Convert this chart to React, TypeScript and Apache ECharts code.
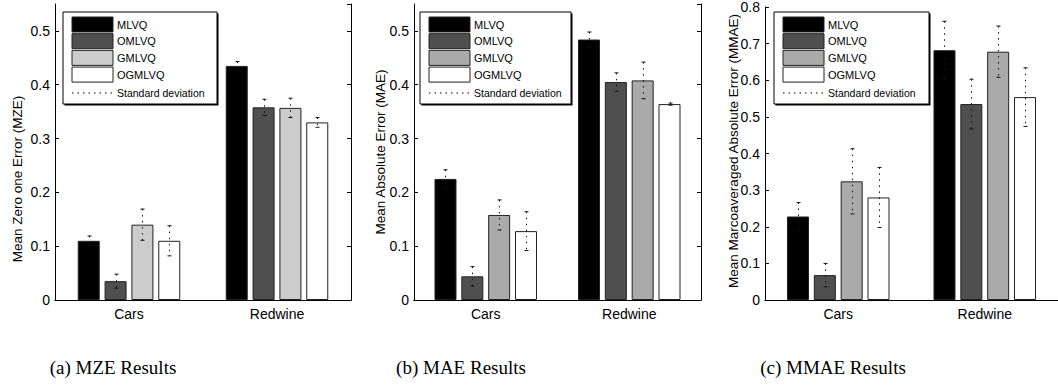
import React, { useEffect, useRef } from "react";
import * as echarts from "echarts";

const categories = ["Cars", "Redwine"];
const methods = ["MLVQ", "OMLVQ", "GMLVQ", "OGMLVQ"];

const mzeMLVQ = [0.11, 0.435];
const mzeOMLVQ = [0.035, 0.358];
const mzeGMLVQ = [0.14, 0.357];
const mzeOGMLVQ = [0.11, 0.33];
const mzeStdMLVQ = [0.009, 0.008];
const mzeStdOMLVQ = [0.013, 0.015];
const mzeStdGMLVQ = [0.029, 0.018];
const mzeStdOGMLVQ = [0.028, 0.009];

const maeMLVQ = [0.225, 0.484];
const maeOMLVQ = [0.044, 0.405];
const maeGMLVQ = [0.158, 0.408];
const maeOGMLVQ = [0.128, 0.364];
const maeStdMLVQ = [0.017, 0.014];
const maeStdOMLVQ = [0.018, 0.017];
const maeStdGMLVQ = [0.028, 0.034];
const maeStdOGMLVQ = [0.036, 0.002];

const mmaeMLVQ = [0.228, 0.682];
const mmaeOMLVQ = [0.068, 0.535];
const mmaeGMLVQ = [0.324, 0.678];
const mmaeOGMLVQ = [0.28, 0.554];
const mmaeStdMLVQ = [0.038, 0.079];
const mmaeStdOMLVQ = [0.032, 0.068];
const mmaeStdGMLVQ = [0.089, 0.07];
const mmaeStdOGMLVQ = [0.082, 0.08];

const yLabels = [
  "Mean Zero one Error (MZE)",
  "Mean Absolute Error (MAE)",
  "Mean Marcoaveraged Absolute Error (MMAE)",
];
const captions = ["(a) MZE Results", "(b) MAE Results", "(c) MMAE Results"];
const yMax = [0.55, 0.55, 0.8];
const legendDev = "Standard deviation";

const SANS = "'Liberation Sans', Arial, Helvetica, sans-serif";
const SERIF = "'Liberation Serif', 'Times New Roman', serif";
const BAR_W = 22;
const BAR_GAP = 0.22;

const panels = [
  {
    vals: [mzeMLVQ, mzeOMLVQ, mzeGMLVQ, mzeOGMLVQ],
    stds: [mzeStdMLVQ, mzeStdOMLVQ, mzeStdGMLVQ, mzeStdOGMLVQ],
    colors: ["#000000", "#4f4f4f", "#cccccc", "#ffffff"],
    grid: { left: 55, top: 4, width: 296, height: 296 },
    legendX: 63,
    legendW: 154,
    labelX: 17,
    labelY: 179,
    capX: 113,
    showRight: true,
  },
  {
    vals: [maeMLVQ, maeOMLVQ, maeGMLVQ, maeOGMLVQ],
    stds: [maeStdMLVQ, maeStdOMLVQ, maeStdGMLVQ, maeStdOGMLVQ],
    colors: ["#000000", "#4f4f4f", "#aaaaaa", "#ffffff"],
    grid: { left: 414, top: 4, width: 287, height: 296 },
    legendX: 420,
    legendW: 151,
    labelX: 380,
    labelY: 152,
    capX: 461,
    showRight: true,
  },
  {
    vals: [mmaeMLVQ, mmaeOMLVQ, mmaeGMLVQ, mmaeOGMLVQ],
    stds: [mmaeStdMLVQ, mmaeStdOMLVQ, mmaeStdGMLVQ, mmaeStdOGMLVQ],
    colors: ["#000000", "#4f4f4f", "#aaaaaa", "#ffffff"],
    grid: { left: 765, top: 4, width: 296, height: 296 },
    legendX: 774,
    legendW: 155,
    labelX: 733,
    labelY: 151,
    capX: 833,
    showRight: false,
  },
];

function buildOption() {
  const grid: any[] = [];
  const xAxis: any[] = [];
  const yAxis: any[] = [];
  const series: any[] = [];
  const graphic: any[] = [];

  panels.forEach((p, pi) => {
    grid.push({ ...p.grid, containLabel: false });
    const lineStyle = { color: "#000", width: 1 };
    xAxis.push({
      type: "category",
      gridIndex: pi,
      data: categories,
      position: "bottom",
      axisLine: { lineStyle },
      axisTick: { inside: true, alignWithLabel: true, length: 4, lineStyle },
      axisLabel: { color: "#000", fontFamily: SANS, fontSize: 14, margin: 7 },
    });
    xAxis.push({
      type: "category",
      gridIndex: pi,
      data: categories,
      position: "top",
      axisLine: { lineStyle },
      axisTick: { inside: true, alignWithLabel: true, length: 4, lineStyle },
      axisLabel: { show: false },
    });
    yAxis.push({
      type: "value",
      gridIndex: pi,
      min: 0,
      max: yMax[pi],
      interval: 0.1,
      position: "left",
      axisLine: { show: true, lineStyle },
      axisTick: { show: true, inside: true, length: 4, lineStyle },
      splitLine: { show: false },
      axisLabel: {
        color: "#000",
        fontFamily: SANS,
        fontSize: 14,
        margin: 5,
        showMaxLabel: pi === 2,
      },
    });
    yAxis.push({
      type: "value",
      gridIndex: pi,
      min: 0,
      max: yMax[pi],
      interval: 0.1,
      position: "right",
      show: p.showRight,
      axisLine: { show: true, lineStyle },
      axisTick: { show: true, inside: true, length: 4, lineStyle },
      splitLine: { show: false },
      axisLabel: { show: false },
    });

    methods.forEach((m, mi) => {
      series.push({
        type: "bar",
        name: m,
        xAxisIndex: pi * 2,
        yAxisIndex: pi * 2,
        barWidth: BAR_W,
        barGap: BAR_GAP * 100 + "%",
        data: p.vals[mi],
        itemStyle: { color: p.colors[mi], borderColor: "#222", borderWidth: 1 },
        z: 2,
      });
    });

    methods.forEach((m, mi) => {
      const data = categories.map((_, ci) => [ci, p.vals[mi][ci], p.stds[mi][ci]]);
      series.push({
        type: "custom",
        name: m + " std",
        xAxisIndex: pi * 2,
        yAxisIndex: pi * 2,
        z: 5,
        encode: { x: 0, y: 1 },
        data,
        renderItem: (params: any, api: any) => {
          const ci = api.value(0);
          const v = api.value(1);
          const e = api.value(2);
          const step = BAR_W * (1 + BAR_GAP);
          const total = BAR_W * 4 + BAR_W * BAR_GAP * 3;
          const offset = -total / 2 + BAR_W / 2 + mi * step;
          const top = api.coord([ci, v + e]);
          const bot = api.coord([ci, v - e]);
          const x = Math.round(top[0] + offset) + 0.5;
          const st = { stroke: "#111", lineWidth: 1 };
          return {
            type: "group",
            children: [
              {
                type: "line",
                shape: { x1: x, y1: top[1], x2: x, y2: bot[1] },
                style: { ...st, lineDash: [1.5, 4.5] },
              },
              {
                type: "line",
                shape: { x1: x - 2, y1: top[1], x2: x + 2, y2: top[1] },
                style: st,
              },
              {
                type: "line",
                shape: { x1: x - 2, y1: bot[1], x2: x + 2, y2: bot[1] },
                style: st,
              },
            ],
          };
        },
      });
    });

    // Legend box
    const L = p.legendX;
    const T = 12;
    const W = p.legendW;
    const H = 92;
    graphic.push({
      type: "rect",
      z: 100,
      shape: { x: L + 1.5, y: T + 1.5, width: W, height: H },
      style: { fill: "#000" },
    });
    graphic.push({
      type: "rect",
      z: 101,
      shape: { x: L, y: T, width: W, height: H },
      style: { fill: "#fff", stroke: "#000", lineWidth: 1 },
    });
    methods.forEach((m, mi) => {
      const sy = T + 5 + mi * 16.7;
      graphic.push({
        type: "rect",
        z: 102,
        shape: { x: L + 9, y: sy, width: 41, height: 15 },
        style: { fill: p.colors[mi], stroke: "#222", lineWidth: 1 },
      });
      graphic.push({
        type: "text",
        z: 102,
        x: L + 54,
        y: sy + 7.5,
        style: {
          text: m,
          fill: "#000",
          font: `11px ${SANS}`,
          verticalAlign: "middle",
          align: "left",
        },
      });
    });
    graphic.push({
      type: "line",
      z: 102,
      shape: { x1: L + 9, y1: T + 81, x2: L + 50, y2: T + 81 },
      style: { stroke: "#000", lineWidth: 1, lineDash: [1.5, 4] },
    });
    graphic.push({
      type: "text",
      z: 102,
      x: L + 54,
      y: T + 81,
      style: {
        text: legendDev,
        fill: "#000",
        font: `10.5px ${SANS}`,
        verticalAlign: "middle",
        align: "left",
      },
    });

    // Y-axis label
    graphic.push({
      type: "text",
      z: 10,
      x: p.labelX,
      y: p.labelY,
      rotation: Math.PI / 2,
      style: {
        text: yLabels[pi],
        fill: "#000",
        font: `13.5px ${SANS}`,
        align: "center",
        verticalAlign: "middle",
      },
    });

    // Caption
    graphic.push({
      type: "text",
      z: 10,
      x: p.capX,
      y: 367,
      style: {
        text: captions[pi],
        fill: "#000",
        font: `19px ${SERIF}`,
        align: "center",
        verticalAlign: "middle",
      },
    });
  });

  return {
    animation: false,
    backgroundColor: "#fff",
    grid,
    xAxis,
    yAxis,
    series,
    graphic,
  };
}

export default function App() {
  const ref = useRef<HTMLDivElement>(null);
  useEffect(() => {
    if (!ref.current) return;
    const chart = echarts.init(ref.current, undefined, { renderer: "svg" });
    chart.setOption(buildOption() as any);
    return () => chart.dispose();
  }, []);
  return (
    <div
      ref={ref}
      style={{ position: "fixed", left: 0, top: 0, width: 1058, height: 392, background: "#fff" }}
    />
  );
}
